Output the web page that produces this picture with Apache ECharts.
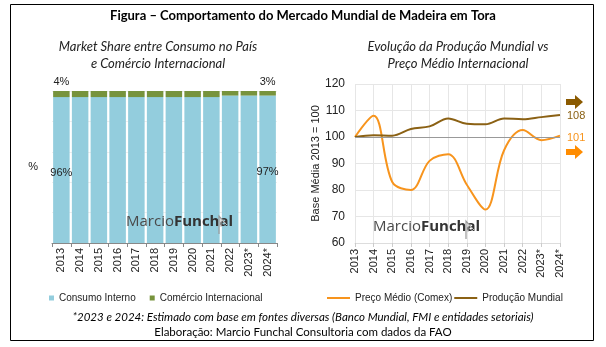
<!DOCTYPE html>
<html><head><meta charset="utf-8">
<script src="https://cdn.jsdelivr.net/npm/echarts@6/dist/echarts.min.js"></script>
<style>html,body{margin:0;padding:0;background:#fff}#c{width:606px;height:347px}</style>
</head><body><div id="c"></div>
<script>
const years = ['2013','2014','2015','2016','2017','2018','2019','2020','2021','2022','2023*','2024*'];
const consumoInterno = [96,96,96,96,96,96,96,96,96,97,97,97];
const comercioInternacional = [4,4,4,4,4,4,4,4,4,3,3,3];
const precoMedio = [100,108,83,80,91,93.5,82,72.6,95,102.6,98.8,100.5];
const producaoMundial = [100,100.7,100.5,103,104,107,105,104.8,107,106.7,107.5,108.3];
const leftYMax = 100;
const rightYMin = 60, rightYMax = 120, rightYInterval = 10;

const chart = echarts.init(document.getElementById('c'), null, {renderer:'canvas'});
const axFont = 'Liberation Sans';
const lastIdx = years.length - 1;
function edgeLabel(p){ return (p.dataIndex===0||p.dataIndex===lastIdx) ? p.value + '%' : ''; }

const wm = (x,y)=>[
  {type:'text', left:x, top:y, z:100, silent:true, style:{
    text:'{a|Marcio}{b|Funchal}', rich:{a:{fontFamily:'Open Sans',fontSize:15,fill:'#4a4a4a'},b:{fontFamily:'Open Sans',fontSize:15,fontWeight:'bold',fill:'#333'}}}},
  {type:'polyline', z:100, silent:true, shape:{points:[[x+93,y+20],[x+93,y+2],[x+99,y+9]]}, style:{stroke:'#999',lineWidth:1.2,fill:'none'}},
  {type:'polyline', z:100, silent:true, shape:{points:[[x+95,y+13],[x+95,y+5],[x+101,y+11]]}, style:{stroke:'#bbb',lineWidth:1,fill:'none'}}
];

chart.setOption({
  animation:false,
  textStyle:{fontFamily:axFont},
  graphic:[
    {type:'rect', shape:{x:10.5,y:4.5,width:583,height:336}, style:{fill:'none',stroke:'#000',lineWidth:1}},
    {type:'text', left:'center', top:9, style:{text:'Figura – Comportamento do Mercado Mundial de Madeira em Tora', fontFamily:'Lato', fontWeight:'bold', fontSize:13, fill:'#000'}},
    {type:'text', x:158, y:38, style:{text:'Market Share entre Consumo no País\ne Comércio Internacional', align:'center', fontFamily:'Lato', fontStyle:'italic', fontSize:13, lineHeight:17, fill:'#222'}},
    {type:'text', x:458, y:38, style:{text:'Evolução da Produção Mundial vs\nPreço Médio Internacional', align:'center', fontFamily:'Lato', fontStyle:'italic', fontSize:13, lineHeight:17, fill:'#222'}},
    {type:'text', x:303, y:311, style:{text:'*2023 e 2024: Estimado com base em fontes diversas (Banco Mundial, FMI e entidades setoriais)', align:'center', fontFamily:'Lato', fontStyle:'italic', fontSize:11.5, fill:'#000'}},
    {type:'text', x:303, y:326, style:{text:'Elaboração: Marcio Funchal Consultoria com dados da FAO', align:'center', fontFamily:'Lato', fontSize:11.5, fill:'#000'}},
    ...wm(126,214), ...wm(373,219),
    {type:'polygon', shape:{points:[[566,99],[575,99],[575,95],[583,102],[575,109],[575,105],[566,105]]}, style:{fill:'#8B5A00'}},
    {type:'polygon', shape:{points:[[566,149],[575,149],[575,145],[583,152],[575,159],[575,155],[566,155]]}, style:{fill:'#FF8C00'}}
  ],
  legend:[
    {left:44, top:288, itemWidth:5, itemHeight:5, itemGap:14, icon:'rect',
     textStyle:{fontFamily:axFont,fontSize:10,color:'#222'}, data:['Consumo Interno','Comércio Internacional']},
    {left:322, top:288, itemWidth:23, itemHeight:2, itemGap:2, icon:'rect',
     textStyle:{fontFamily:axFont,fontSize:10,color:'#222'}, data:['Preço Médio (Comex)','Produção Mundial']}
  ],
  grid:[
    {left:52, right:329, top:91, bottom:104},
    {left:355, right:46, top:84, bottom:104}
  ],
  xAxis:[
    {type:'category', gridIndex:0, data:years, axisLine:{lineStyle:{color:'#888'}}, axisTick:{show:true, length:4, lineStyle:{color:'#888'}},
     axisLabel:{rotate:90, fontSize:11, color:'#222', margin:5, fontFamily:axFont}},
    {type:'category', gridIndex:1, data:years, boundaryGap:false, axisLine:{lineStyle:{color:'#ddd'}}, axisTick:{show:true,length:4,lineStyle:{color:'#ccc'}},
     splitLine:{show:true, lineStyle:{color:'#e6e6e6'}},
     axisLabel:{rotate:90, fontSize:11, color:'#222', margin:6, fontFamily:axFont}}
  ],
  yAxis:[
    {type:'value', gridIndex:0, min:0, max:leftYMax, axisLabel:{show:false}, axisLine:{show:false}, axisTick:{show:false},
     splitLine:{show:true, lineStyle:{color:'#eee'}},
     name:'%', nameLocation:'middle', nameRotate:0, nameGap:14, nameTextStyle:{fontSize:11, color:'#222'}},
    {type:'value', gridIndex:1, min:rightYMin, max:rightYMax, interval:rightYInterval,
     axisLine:{show:false}, axisTick:{show:false},
     splitLine:{lineStyle:{color:'#e6e6e6'}},
     axisLabel:{fontSize:12, color:'#222', margin:10},
     name:'Base Média 2013 = 100', nameLocation:'middle', nameGap:31, nameTextStyle:{fontSize:11, color:'#222'}}
  ],
  series:[
    {name:'Consumo Interno', type:'bar', xAxisIndex:0, yAxisIndex:0, stack:'s', data:consumoInterno, barCategoryGap:'12%',
     itemStyle:{color:'#93CDDD'},
     label:{show:true, position:'inside', formatter:edgeLabel, fontSize:11, color:'#222', offset:[0,3]}},
    {name:'Comércio Internacional', type:'bar', xAxisIndex:0, yAxisIndex:0, stack:'s', data:comercioInternacional,
     itemStyle:{color:'#77933C'},
     label:{show:true, position:'top', distance:4, formatter:edgeLabel, fontSize:11, color:'#222'}},
    {name:'Preço Médio (Comex)', type:'line', xAxisIndex:1, yAxisIndex:1, data:precoMedio, smooth:0.35, showSymbol:false,
     lineStyle:{color:'#F7941D', width:2}, itemStyle:{color:'#F7941D'},
     endLabel:{show:true, formatter:p=>Math.round(p.value), color:'#F7941D', fontSize:11, distance:7, offset:[0,2]},
     markLine:{silent:true, symbol:'none', label:{show:false}, lineStyle:{color:'#999', type:'solid', width:1}, data:[{yAxis:100}]}},
    {name:'Produção Mundial', type:'line', xAxisIndex:1, yAxisIndex:1, data:producaoMundial, smooth:0.35, showSymbol:false,
     lineStyle:{color:'#8B6114', width:2}, itemStyle:{color:'#8B6114'},
     endLabel:{show:true, formatter:p=>Math.round(p.value), color:'#8B6114', fontSize:11, distance:7, offset:[0,1]}}
  ]
});
</script></body></html>
